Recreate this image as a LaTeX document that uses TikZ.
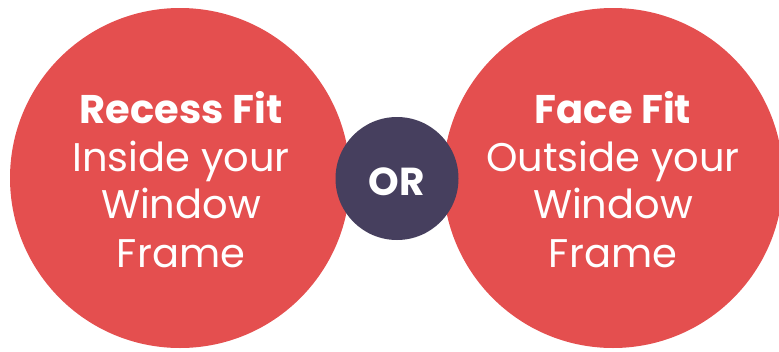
\documentclass[tikz,border=0pt]{standalone}
\usepackage{fontspec}
\setmainfont{Poppins}
\definecolor{fitred}{HTML}{E44F4F}
\definecolor{ordark}{HTML}{463F5E}
\begin{document}
\begin{tikzpicture}[x=1pt,y=-1pt,
  bigcirc/.style={circle,fill=fitred,minimum size=340pt,inner sep=0pt},
  orcirc/.style={circle,fill=ordark,minimum size=123pt,inner sep=0pt},
  ortxt/.style={anchor=base,text=white,inner sep=0pt,font=\fontsize{39}{39}\selectfont\bfseries},
  head/.style={anchor=base,text=white,inner sep=0pt,font=\fontsize{40}{40}\selectfont\bfseries},
  body/.style={anchor=base,text=white,inner sep=0pt,font=\fontsize{40}{40}\selectfont}]
\useasboundingbox (0,0) rectangle (779,351);
\begin{scope}
\clip (0,0) rectangle (779,351);
\node[bigcirc] (left) at (180,178) {};
\node[bigcirc] (right) at (613,178) {};
\end{scope}
\node[orcirc] (or) at (397,178.5) {};
\node[ortxt] (ortext) at (397,195) {OR};
\node[head] (lh) at (181,123) {Recess Fit};
\node[body] (l1) at (181,171) {Inside your};
\node[body] (l2) at (181,218) {Window};
\node[body] (l3) at (181,267) {Frame};
\node[head] (rh) at (613,123) {Face Fit};
\node[body] (r1) at (613,171) {Outside your};
\node[body] (r2) at (613,218) {Window};
\node[body] (r3) at (613,267) {Frame};
\end{tikzpicture}
\end{document}
